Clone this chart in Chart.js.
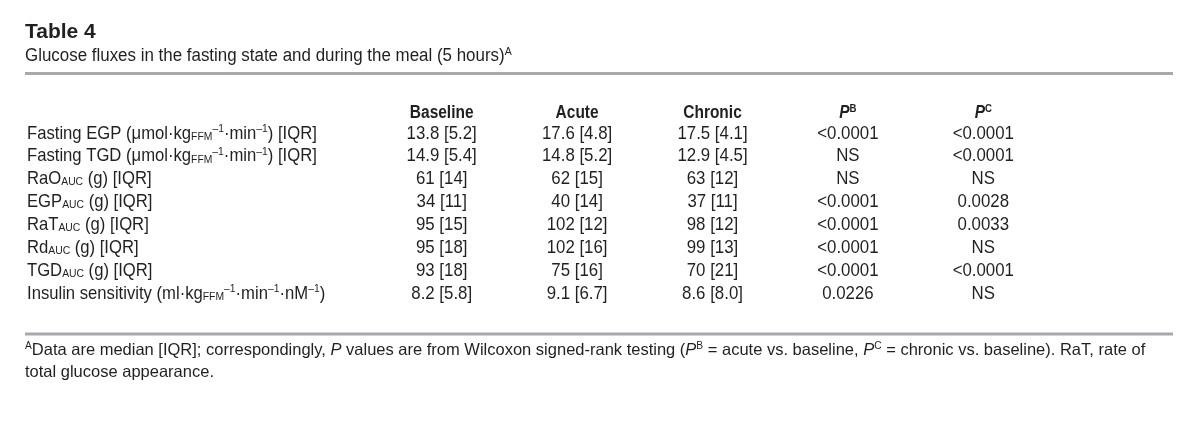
<!DOCTYPE html>
<html>
<head>
<meta charset="utf-8">
<script src="https://cdn.jsdelivr.net/npm/chart.js@4.4.1/dist/chart.umd.min.js"></script>
<style>
  html, body { margin: 0; padding: 0; background: #fff; }
  #wrap { width: 1200px; height: 431px; position: relative; }
</style>
</head>
<body>
<div id="wrap"><canvas id="tableChart"></canvas></div>
<script>
// Table content (markup: ^{sup}, _{sub}, *italic*)
const columns = ['Baseline', 'Acute', 'Chronic', 'PB', 'PC'];
const columnHeads = ['Baseline', 'Acute', 'Chronic', '*P*^{B}', '*P*^{C}'];

const rowLabels = [
  'Fasting EGP (μmol·kg_{FFM}^{–1}·min^{–1}) [IQR]',
  'Fasting TGD (μmol·kg_{FFM}^{–1}·min^{–1}) [IQR]',
  'RaO_{AUC} (g) [IQR]',
  'EGP_{AUC} (g) [IQR]',
  'RaT_{AUC} (g) [IQR]',
  'Rd_{AUC} (g) [IQR]',
  'TGD_{AUC} (g) [IQR]',
  'Insulin sensitivity (ml·kg_{FFM}^{–1}·min^{–1}·nM^{–1})'
];

const baseline = ['13.8 [5.2]', '14.9 [5.4]', '61 [14]', '34 [11]', '95 [15]', '95 [18]', '93 [18]', '8.2 [5.8]'];
const acute    = ['17.6 [4.8]', '14.8 [5.2]', '62 [15]', '40 [14]', '102 [12]', '102 [16]', '75 [16]', '9.1 [6.7]'];
const chronic  = ['17.5 [4.1]', '12.9 [4.5]', '63 [12]', '37 [11]', '98 [12]', '99 [13]', '70 [21]', '8.6 [8.0]'];
const pB       = ['<0.0001', 'NS', 'NS', '<0.0001', '<0.0001', '<0.0001', '<0.0001', '0.0226'];
const pC       = ['<0.0001', '<0.0001', 'NS', '0.0028', '0.0033', 'NS', '<0.0001', 'NS'];

const cellValues = [baseline, acute, chronic, pB, pC];

const title = 'Table 4';
const subtitle = 'Glucose fluxes in the fasting state and during the meal (5 hours)^{A}';
const footnote = [
  '^{A}Data are median [IQR]; correspondingly, *P* values are from Wilcoxon signed-rank testing (*P*^{B} = acute vs. baseline, *P*^{C} = chronic vs. baseline). RaT, rate of',
  'total glucose appearance.'
];

const FAMILY = "'Liberation Sans', Arial, sans-serif";
const INK = '#231f20';
const RULE = '#a7a9ac';

function parseRich(str) {
  const parts = str.split(/(\^\{[^}]*\}|_\{[^}]*\}|\*[^*]*\*)/).filter(s => s.length);
  return parts.map(p => {
    if (p.startsWith('^{')) return { text: p.slice(2, -1), mode: 'sup' };
    if (p.startsWith('_{')) return { text: p.slice(2, -1), mode: 'sub' };
    if (p.startsWith('*')) return { text: p.slice(1, -1), mode: 'normal', italic: true };
    return { text: p, mode: 'normal' };
  });
}

function segFont(seg, size, weight) {
  const s = seg.mode === 'normal' ? size : size * 0.62;
  return (seg.italic ? 'italic ' : '') + weight + ' ' + s.toFixed(1) + 'px ' + FAMILY;
}

// draw rich text vertically centred on y (cap height), squeezed by k
function drawRich(ctx, str, x, y, align, size, weight, k) {
  const segs = parseRich(str);
  let total = 0;
  segs.forEach(seg => {
    ctx.font = segFont(seg, size, weight);
    seg.w = ctx.measureText(seg.text).width;
    total += seg.w;
  });
  const start = align === 'center' ? x - total * k / 2 : x;
  const base = y + size * 0.358;
  ctx.save();
  ctx.translate(start, 0);
  ctx.scale(k, 1);
  ctx.textBaseline = 'alphabetic';
  ctx.textAlign = 'left';
  let cx = 0;
  segs.forEach(seg => {
    ctx.font = segFont(seg, size, weight);
    let by = base;
    if (seg.mode === 'sup') by = base - size * 0.36;
    if (seg.mode === 'sub') by = base + size * 0.06;
    ctx.fillText(seg.text, cx, by);
    cx += seg.w;
  });
  ctx.restore();
}

const tablePlugin = {
  id: 'tableText',
  afterDatasetsDraw(chart) {
    const ctx = chart.ctx;
    const xs = chart.scales.x;
    const ys = chart.scales.y;
    ctx.save();
    ctx.fillStyle = INK;

    // title + subtitle
    drawRich(ctx, title, 25, 30, 'left', 21, 'bold', 1);
    drawRich(ctx, subtitle, 25, 55, 'left', 18, 'normal', 0.94);

    // rules
    ctx.fillStyle = RULE;
    ctx.fillRect(25, 72, 1148, 3);
    ctx.fillRect(25, ys.bottom + 29, 1148, 3);
    ctx.fillStyle = INK;

    // column heads
    const headY = ys.getPixelForValue(0) - 20;
    columnHeads.forEach((h, i) => {
      drawRich(ctx, h, xs.getPixelForValue(i), headY, 'center', 18, 'bold', 0.86);
    });

    // row labels
    rowLabels.forEach((r, i) => {
      drawRich(ctx, r, 27, ys.getPixelForValue(i), 'left', 18.5, 'normal', 0.9);
    });

    // cells at the point positions
    chart.data.datasets.forEach((ds, d) => {
      const meta = chart.getDatasetMeta(d);
      meta.data.forEach((pt, i) => {
        drawRich(ctx, cellValues[d][i], pt.x, pt.y, 'center', 18.5, 'normal', 0.91);
      });
    });

    // footnote
    footnote.forEach((line, i) => {
      drawRich(ctx, line, 25, ys.bottom + 46 + i * 22, 'left', 16.5, 'normal', 1.0);
    });
    ctx.restore();
  }
};

const tableChart = new Chart(document.getElementById('tableChart'), {
  type: 'scatter',
  data: {
    datasets: columns.map((c, d) => ({
      label: c,
      data: rowLabels.map(r => ({ x: c, y: r })),
      pointRadius: 0,
      pointHoverRadius: 0
    }))
  },
  options: {
    responsive: true,
    maintainAspectRatio: false,
    animation: false,
    events: [],
    layout: { padding: { left: 374, right: 149, top: 120.5, bottom: 127.5 } },
    plugins: { legend: { display: false }, tooltip: { enabled: false } },
    scales: {
      x: { type: 'category', labels: columns, offset: true, display: false },
      y: { type: 'category', labels: rowLabels, offset: true, display: false }
    }
  },
  plugins: [tablePlugin]
});
</script>
</body>
</html>
